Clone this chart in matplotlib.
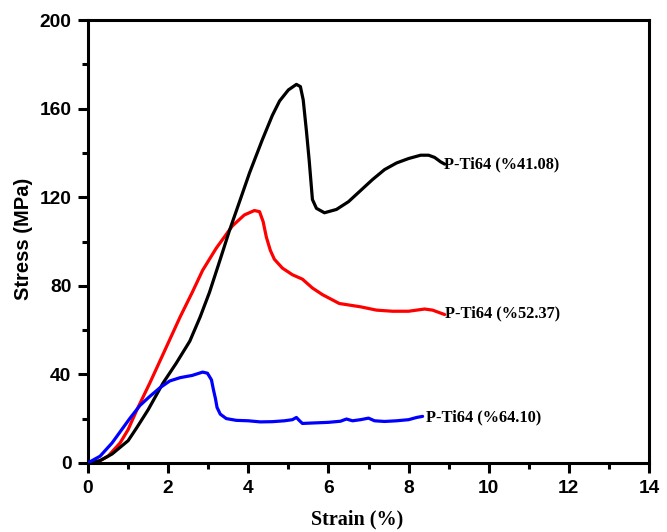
import matplotlib
matplotlib.use("Agg")
import matplotlib.pyplot as plt
from matplotlib.ticker import MultipleLocator

# Data
black_x = [0, 0.3, 0.6, 1.0, 1.22, 1.5, 1.87, 2.2, 2.54, 2.8, 3.03, 3.3, 3.53, 3.8, 4.03, 4.35, 4.6,
           4.78, 5.0, 5.2, 5.3, 5.37, 5.45, 5.52, 5.6, 5.7, 5.9, 6.2, 6.5, 6.8, 7.1, 7.4, 7.7, 8.0,
           8.3, 8.5, 8.65, 8.8, 8.9]
black_y = [0, 1, 4, 10, 16, 24, 36, 45, 55, 66, 77, 92, 105, 119, 131, 146, 157,
           163.5, 168.5, 171, 170, 164, 150, 136.5, 119, 115, 113, 114.5, 118, 123, 128, 132.5, 135.5, 137.5,
           139, 139, 138, 136, 135]

red_x = [0, 0.2, 0.5, 0.8, 1.0, 1.22, 1.54, 1.87, 2.3, 2.6, 2.86, 3.2, 3.6, 3.9, 4.15, 4.28, 4.37,
         4.45, 4.55, 4.65, 4.85, 5.1, 5.35, 5.6, 5.85, 6.27, 6.8, 7.2, 7.6, 8.0, 8.4, 8.6, 8.75, 8.9]
red_y = [0, 0, 3, 9, 15, 24, 36, 49, 66, 77, 87, 97, 107, 112, 114, 113.5, 109,
         102, 96, 92, 88, 85, 83, 79, 76, 72, 70.5, 69, 68.5, 68.5, 69.5, 69, 68, 67]

blue_x = [0, 0.3, 0.6, 1.04, 1.3, 1.54, 1.8, 2.04, 2.3, 2.6, 2.86, 2.98, 3.08, 3.13, 3.18, 3.22, 3.3,
          3.45, 3.7, 4.0, 4.3, 4.6, 4.9, 5.1, 5.2, 5.28, 5.35, 5.6, 6.0, 6.3, 6.45, 6.6, 6.8, 7.0,
          7.15, 7.4, 7.7, 8.0, 8.2, 8.35]
blue_y = [0, 3, 9, 20, 26, 30, 34, 37, 38.5, 39.5, 41, 40.5, 37.5, 33, 29, 25, 22,
          20, 19.2, 19, 18.5, 18.6, 19, 19.5, 20.5, 19, 17.8, 18, 18.3, 18.8, 19.8, 19, 19.5, 20.2,
          19, 18.7, 19, 19.5, 20.5, 21]

labels = ["P-Ti64 (%41.08)", "P-Ti64 (%52.37)", "P-Ti64 (%64.10)"]
label_x = [8.88, 8.9, 8.43]
label_y = [135, 67.5, 20.7]

xticks = [0, 2, 4, 6, 8, 10, 12, 14]
yticks = [0, 40, 80, 120, 160, 200]

fig = plt.figure(figsize=(6.67, 5.32), dpi=100)
ax = fig.add_axes([0.132, 0.130, 0.841, 0.832])

lw = 2.3
ax.plot(black_x, black_y, color="black", lw=lw, solid_capstyle="round", zorder=3)
ax.plot(red_x, red_y, color="#ff0000", lw=lw, solid_capstyle="round", zorder=2)
ax.plot(blue_x, blue_y, color="#0000ff", lw=lw, solid_capstyle="round", zorder=4)

serif = "Liberation Serif"
sans = "Liberation Sans"
for t, x, y in zip(labels, label_x, label_y):
    ax.text(x, y, t, fontsize=11.8, fontweight="bold", family=serif, va="center", ha="left")

ax.set_xlim(0, 14)
ax.set_ylim(0, 200)
ax.set_xticks(xticks)
ax.set_yticks(yticks)
ax.xaxis.set_minor_locator(MultipleLocator(1))
ax.yaxis.set_minor_locator(MultipleLocator(20))
ax.tick_params(which="major", direction="out", length=7.5, width=2.2, top=False, right=False,
               labelsize=13.8, pad=4.5)
ax.tick_params(which="minor", direction="out", length=4.5, width=2.2, top=False, right=False)
for lab in ax.get_xticklabels() + ax.get_yticklabels():
    lab.set_fontweight("bold")
    lab.set_family(sans)
for s in ax.spines.values():
    s.set_linewidth(2.2)

ax.set_xlabel("Strain (%)", fontsize=14.5, fontweight="bold", family=serif)
ax.xaxis.set_label_coords(0.48, -0.106)
ax.set_ylabel("Stress (MPa)", fontsize=14.5, fontweight="bold", family=sans)
ax.yaxis.set_label_coords(-0.098, 0.505)

fig.savefig("out.png", dpi=100)
